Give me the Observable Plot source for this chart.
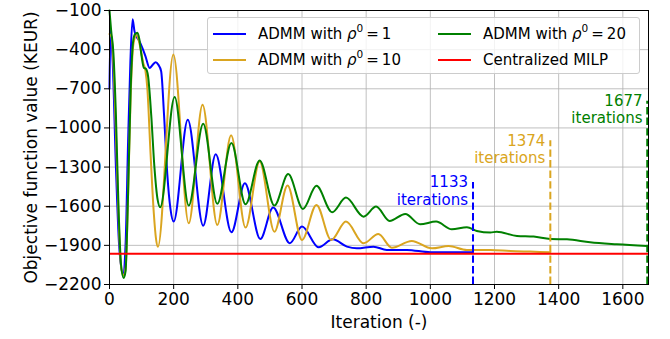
<!DOCTYPE html>
<html><head><meta charset="utf-8">
<script src="https://cdn.jsdelivr.net/npm/d3@7"></script>
<script src="https://cdn.jsdelivr.net/npm/@observablehq/plot@0.6"></script>
<style>
body{margin:0;background:#fff;font-family:"DejaVu Sans",sans-serif}
#wrap{position:relative;width:670px;height:339px;overflow:hidden}
#legend{position:absolute;left:207px;top:17px;width:431px;height:55px;border:1px solid #cccccc;border-radius:3px;background:rgba(255,255,255,0.8);font-size:15px;color:#000}
.item{position:absolute;height:18px;line-height:18px;white-space:nowrap}
.item .sw{position:absolute;top:8px;width:33px;height:2px}
.item .tx{position:absolute;left:45px;top:0}
.item i{font-family:"DejaVu Sans";font-style:italic}
.item sup{font-size:10.5px;position:relative;top:-2px;vertical-align:top;line-height:10px}
</style></head><body><div id="wrap"></div>
<script>
// ---- data ----
const xTicks = [0, 200, 400, 600, 800, 1000, 1200, 1400, 1600];
const yTicks = [-2200, -1900, -1600, -1300, -1000, -700, -400, -100];

const blueIter = [0,3,10,20,30,42,50,58,65,72,78,84,92,103,112,125,135,144,152,161,170,180,190,200,244,292,331,380,422,470,510,562,600,652,696,740,771,823,864,927,1000,1062,1133];
const blueVal  = [-700,-250,-500,-1300,-1900,-2120,-1900,-1100,-500,-168,-260,-300,-330,-390,-450,-540,-515,-497,-515,-566,-900,-1350,-1620,-1718,-937,-1749,-1201,-1800,-1424,-1851,-1610,-1884,-1756,-1915,-1854,-1910,-1923,-1910,-1935,-1935,-1953,-1953,-1953];

const orangeIter = [0,6,14,22,30,37,44,50,58,66,75,84,95,105,112,118,128,138,145,151,199,247,290,336,379,424,468,514,555,600,645,691,737,792,838,880,942,1005,1057,1114,1187,1249,1311,1374];
const orangeVal  = [-280,-300,-600,-1200,-1800,-2080,-2130,-2080,-1500,-750,-350,-290,-370,-500,-560,-700,-1200,-1650,-1850,-1910,-438,-1731,-822,-1744,-1057,-1764,-1257,-1795,-1441,-1859,-1590,-1859,-1718,-1884,-1813,-1918,-1866,-1923,-1905,-1935,-1935,-1943,-1948,-1953];

const greenIter = [0,5,12,20,28,36,44,50,58,66,74,80,87,93,100,107,113,120,130,140,150,158,203,247,292,336,380,424,468,514,557,603,645,694,737,792,831,873,922,968,1018,1067,1114,1145,1187,1207,1270,1322,1374,1426,1498,1581,1677];
const greenVal  = [-100,-250,-420,-900,-1600,-2050,-2150,-2100,-1500,-700,-330,-280,-270,-320,-450,-540,-545,-600,-900,-1300,-1550,-1608,-763,-1595,-968,-1582,-1116,-1585,-1249,-1595,-1354,-1621,-1444,-1646,-1534,-1680,-1603,-1713,-1659,-1738,-1718,-1777,-1761,-1790,-1802,-1795,-1828,-1833,-1851,-1854,-1877,-1892,-1905];

const milpValue = -1965;

const stopIters = [1133, 1374, 1677];
const stopTops  = [-1418, -1098, -796];

const seriesNames = ["ADMM with ρ0 = 1", "ADMM with ρ0 = 10", "ADMM with ρ0 = 20"];
const seriesColors = ["#0000ff", "#daa520", "#008000"];
const milpColor = "#ff0000";

// ---- tables ----
const series = [[blueIter, blueVal], [orangeIter, orangeVal], [greenIter, greenVal]]
  .map(([xs, ys], i) => xs.map((x, j) => ({x, y: ys[j], s: i})));
const stops = stopIters.map((it, i) => ({iter: it, top: stopTops[i], s: i}));
const yDomain = [yTicks[0], yTicks[yTicks.length - 1]];

const grid = {stroke: "#b0b0b0", strokeOpacity: 1, strokeWidth: 0.8};

const chart = Plot.plot({
  width: 670, height: 339,
  marginLeft: 109, marginRight: 22, marginTop: 10, marginBottom: 55,
  style: {fontFamily: "DejaVu Sans", fontSize: "17px", color: "black", background: "white", overflow: "visible"},
  x: {domain: [0, 1680]},
  y: {domain: yDomain},
  marks: [
    Plot.gridX(xTicks, grid),
    Plot.gridY(yTicks, grid),
    ...series.map((d, i) => Plot.line(d, {x: "x", y: "y", stroke: seriesColors[i], strokeWidth: 2, curve: "monotone-x"})),
    Plot.ruleY([milpValue], {stroke: milpColor, strokeWidth: 2}),
    Plot.ruleX(stops, {x: "iter", y1: () => yDomain[0], y2: "top", stroke: d => seriesColors[d.s], strokeWidth: d => d.s === 2 ? 2.6 : 2, strokeDasharray: "7.4,3.2"}),
    Plot.text(stops, {x: "iter", y: "top", text: d => `${d.iter}\niterations`, textAnchor: "end", lineAnchor: "middle", lineHeight: 1.15, dx: -5, dy: 8, fill: d => seriesColors[d.s], fontSize: 15}),
    Plot.frame({stroke: "black", strokeWidth: 1}),
    Plot.axisX(xTicks, {tickSize: 5, tickPadding: 3, tickFormat: "d", fontSize: 17, label: "Iteration (-)", labelAnchor: "center", labelArrow: "none", labelOffset: 43}),
    Plot.axisY(yTicks, {tickSize: 5, tickPadding: 3, tickFormat: "d", fontSize: 17, label: "Objective function value (KEUR)", labelAnchor: "center", labelArrow: "none", labelOffset: 85})
  ]
});

const wrap = document.getElementById("wrap");
wrap.appendChild(chart);

// ---- legend ----
const legend = document.createElement("div");
legend.id = "legend";
const legendItems = [
  {label: ["ADMM with ", "1"], color: seriesColors[0], left: 5, top: 7},
  {label: ["ADMM with ", "10"], color: seriesColors[1], left: 5, top: 33},
  {label: ["ADMM with ", "20"], color: seriesColors[2], left: 230, top: 7},
  {label: null, text: "Centralized MILP", color: milpColor, left: 230, top: 33}
];
legendItems.forEach(it => {
  const el = document.createElement("div");
  el.className = "item";
  el.style.left = it.left + "px";
  el.style.top = it.top + "px";
  const sw = document.createElement("div");
  sw.className = "sw";
  sw.style.background = it.color;
  el.appendChild(sw);
  const tx = document.createElement("div");
  tx.className = "tx";
  if (it.label) {
    tx.innerHTML = `${it.label[0]}<i>ρ</i><sup>0</sup>&thinsp;=&thinsp;${it.label[1]}`;
  } else {
    tx.textContent = it.text;
  }
  el.appendChild(tx);
  legend.appendChild(el);
});
wrap.appendChild(legend);
</script>
</body></html>
